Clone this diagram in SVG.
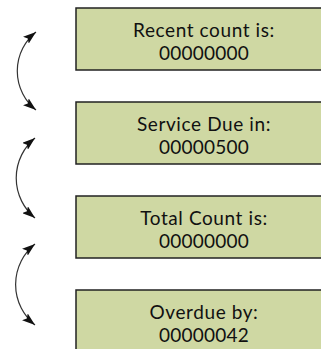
<svg xmlns="http://www.w3.org/2000/svg" width="321" height="349" viewBox="0 0 321 349">
<style>
.box{fill:#cfd8a3;stroke:#222;stroke-width:1.5}
.t{font-family:Lato,"Open Sans",sans-serif;font-size:19px;fill:#111;text-anchor:middle}
.l{letter-spacing:0.6px}
.v{letter-spacing:0.2px}
.c{fill:none;stroke:#333;stroke-width:1.2}
</style>
<defs>
<marker id="ah" viewBox="0 0 13 9" refX="13" refY="4.5" markerWidth="13" markerHeight="9" markerUnits="userSpaceOnUse" orient="auto-start-reverse">
<path d="M0,0 L13,4.5 L0,9 L2.5,4.5 z" fill="#111"/>
</marker>
</defs>
<rect width="321" height="349" fill="#fff"/>
<g id="n1"><rect class="box" x="76" y="8" width="260" height="62"/><text class="t l" x="204" y="37">Recent count is:</text><text class="t v" x="204" y="60">00000000</text></g>
<g id="n2"><rect class="box" x="76" y="102" width="260" height="62"/><text class="t l" x="204" y="131">Service Due in:</text><text class="t v" x="204" y="154">00000500</text></g>
<g id="n3"><rect class="box" x="76" y="196" width="260" height="62"/><text class="t l" x="204" y="225">Total Count is:</text><text class="t v" x="204" y="248">00000000</text></g>
<g id="n4"><rect class="box" x="76" y="290" width="260" height="70"/><text class="t l" x="204" y="319">Overdue by:</text><text class="t v" x="204" y="342">00000042</text></g>
<g id="connectors">
<path class="c" d="M36,32 A50,50 0 0 0 36,110" marker-start="url(#ah)" marker-end="url(#ah)"/>
<path class="c" d="M35,138 A52,52 0 0 0 35,218" marker-start="url(#ah)" marker-end="url(#ah)"/>
<path class="c" d="M35,244 A52,52 0 0 0 35,325" marker-start="url(#ah)" marker-end="url(#ah)"/>
</g>
</svg>
